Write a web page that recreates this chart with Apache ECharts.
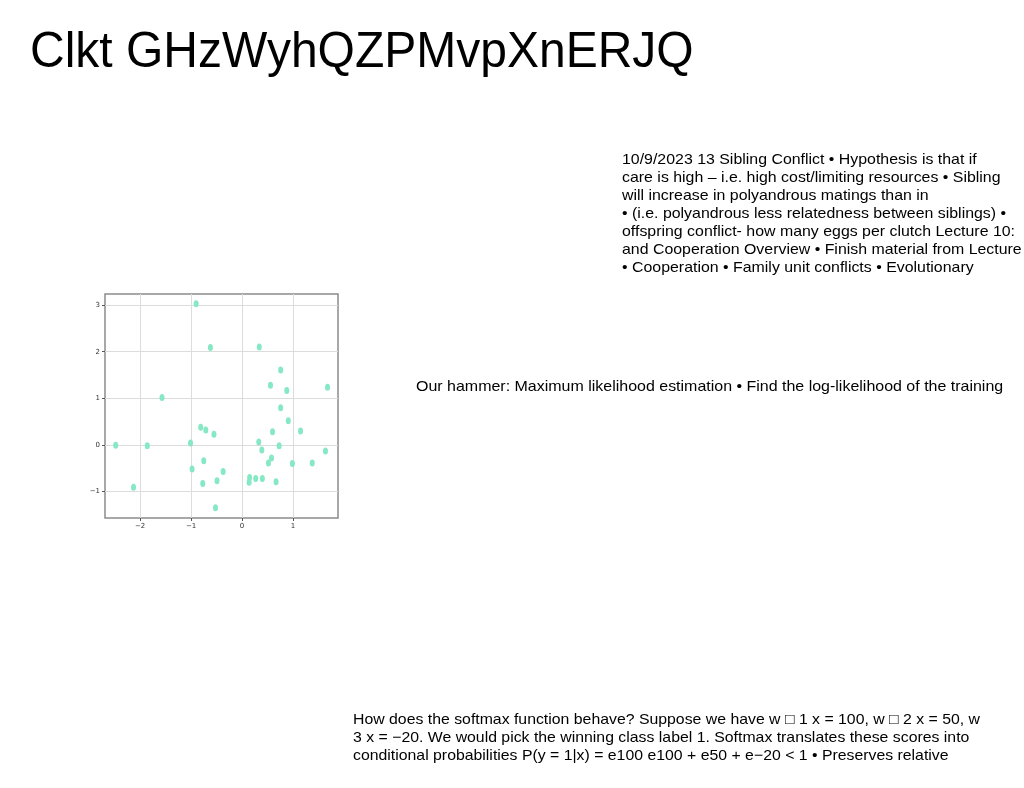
<!DOCTYPE html>
<html>
<head>
<meta charset="utf-8">
<script src="https://cdn.jsdelivr.net/npm/echarts@6/dist/echarts.min.js"></script>
<style>
html,body{margin:0;padding:0;background:#fff;}
#chart{width:1024px;height:788px;}
</style>
</head>
<body>
<div id="chart"></div>
<script>
// Scatter data
const xValues = [-0.90, -0.62, -1.57, 0.34, 0.76, 0.56, 0.88, 1.68, 0.76,
  -2.48, -1.86, -2.13, -1.01, -0.81, -0.71, -0.55, -0.98, -0.75, -0.77, -0.49, -0.52,
  0.91, 0.60, 1.15, 0.33, 0.73, 0.39, 1.64, 0.58, 0.52, 0.99, 1.38, -0.37,
  0.15, 0.14, 0.27, 0.40, 0.67];
const yValues = [3.03, 2.09, 1.02, 2.10, 1.61, 1.28, 1.17, 1.24, 0.80,
  -0.01, -0.02, -0.91, 0.04, 0.38, 0.32, 0.23, -0.52, -0.34, -0.83, -0.77, -1.35,
  0.52, 0.28, 0.30, 0.06, -0.02, -0.11, -0.13, -0.28, -0.39, -0.40, -0.39, -0.57,
  -0.70, -0.80, -0.72, -0.72, -0.79];
const xTicks = [-2, -1, 0, 1];
const yTicks = [-1, 0, 1, 2, 3];

const titleText = 'Clkt GHzWyhQZPMvpXnERJQ';
const block1 = [
  '10/9/2023 13 Sibling Conflict • Hypothesis is that if',
  'care is high – i.e. high cost/limiting resources • Sibling',
  'will increase in polyandrous matings than in',
  '• (i.e. polyandrous less relatedness between siblings) •',
  'offspring conflict- how many eggs per clutch Lecture 10:',
  'and Cooperation Overview • Finish material from Lecture',
  '• Cooperation • Family unit conflicts • Evolutionary'
];
const block2 = 'Our hammer: Maximum likelihood estimation • Find the log-likelihood of the training';
const block3 = [
  'How does the softmax function behave? Suppose we have w \u25A1 1 x = 100, w \u25A1 2 x = 50, w',
  '3 x = −20. We would pick the winning class label 1. Softmax translates these scores into',
  'conditional probabilities P(y = 1|x) = e100 e100 + e50 + e−20 < 1 • Preserves relative'
];

const points = xValues.map((x, i) => [x, yValues[i]]);
const fmt = v => (v < 0 ? '\u2212' + Math.abs(v) : String(v));

const chart = echarts.init(document.getElementById('chart'), null, {renderer: 'canvas'});
chart.setOption({
  backgroundColor: '#ffffff',
  animation: false,
  grid: {
    left: 105, top: 294, width: 233, height: 224,
    show: true, borderColor: '#8c8c8c', borderWidth: 1.5, backgroundColor: 'transparent'
  },
  xAxis: {
    type: 'value', min: -2.69, max: 1.886,
    axisLine: {show: false, onZero: false},
    axisTick: {show: true, customValues: xTicks, length: 3, lineStyle: {color: '#555'}},
    axisLabel: {customValues: xTicks, formatter: fmt, fontSize: 7, color: '#333', margin: 5, fontFamily: 'DejaVu Sans'},
    splitLine: {show: true, lineStyle: {color: '#dcdcdc', width: 1}}
  },
  yAxis: {
    type: 'value', min: -1.57, max: 3.24,
    axisLine: {show: false, onZero: false},
    axisTick: {show: true, customValues: yTicks, length: 3, lineStyle: {color: '#555'}},
    axisLabel: {customValues: yTicks, formatter: fmt, fontSize: 7, color: '#333', margin: 5, fontFamily: 'DejaVu Sans'},
    splitLine: {show: true, lineStyle: {color: '#dcdcdc', width: 1}}
  },
  series: [{
    type: 'scatter',
    data: points,
    symbol: 'circle',
    symbolSize: [5, 7],
    itemStyle: {color: '#86e8c4', opacity: 1}
  }],
  graphic: [
    {type: 'text', left: 30, top: 28, scaleX: 0.96, style: {text: titleText, fontSize: 50, fontFamily: 'Liberation Sans', fill: '#000'}},
    {type: 'text', left: 622, top: 151, scaleX: 1.06, style: {text: block1.join('\n'), fontSize: 15, lineHeight: 18, fontFamily: 'Liberation Sans', fill: '#000'}},
    {type: 'text', left: 416, top: 378, scaleX: 1.065, style: {text: block2, fontSize: 15, lineHeight: 18, fontFamily: 'Liberation Sans', fill: '#000'}},
    {type: 'text', left: 353, top: 711, scaleX: 1.055, style: {text: block3.join('\n'), fontSize: 15, lineHeight: 18, fontFamily: 'Liberation Sans', fill: '#000'}}
  ]
});
</script>
</body>
</html>
